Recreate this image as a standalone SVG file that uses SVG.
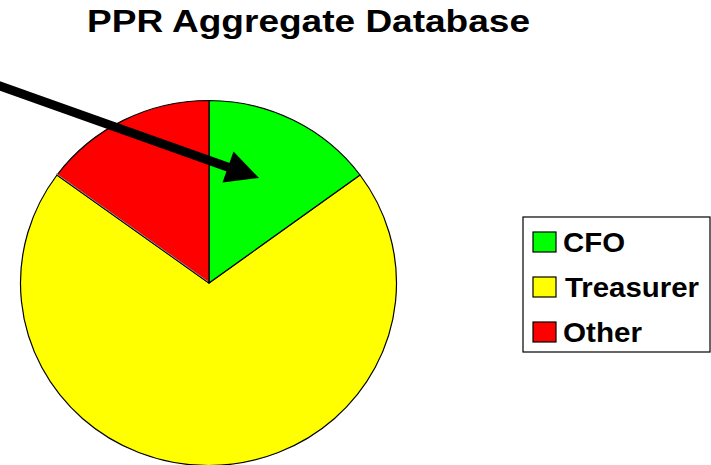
<svg xmlns="http://www.w3.org/2000/svg" width="711" height="465" viewBox="0 0 711 465">
  <style>
    text { font-family: "Liberation Sans", Arial, sans-serif; font-weight: bold; fill: #000; }
    .title { font-size: 32px; }
    .lbl { font-size: 28px; }
    .slice { stroke: #000; stroke-width: 1.2; stroke-linejoin: round; }
    .swatch { stroke: #000; stroke-width: 1.2; }
  </style>
  <rect width="711" height="465" fill="#fff"/>

  <text class="title" x="87" y="32" textLength="443" lengthAdjust="spacingAndGlyphs">PPR Aggregate Database</text>

  <!-- pie slices -->
  <g id="slice-treasurer">
    <path class="slice" fill="#ffff00" d="M209,283 L360,175 A188,182.5 0 1,1 57,175 Z"/>
  </g>
  <g id="slice-cfo">
    <path class="slice" fill="#00ff00" d="M209,283 L209,100.5 A188,182.5 0 0,1 360,175 Z"/>
  </g>
  <g id="slice-other">
    <path class="slice" fill="#ff0000" d="M209,283 L57,175 A188,182.5 0 0,1 209,100.5 Z"/>
    <line x1="208" y1="281.5" x2="56.5" y2="173.8" stroke="#888" stroke-width="1"/>
  </g>

  <!-- legend -->
  <g id="legend">
    <rect x="523" y="217" width="187" height="135" fill="#fff" stroke="#000" stroke-width="1.2"/>
    <g id="legend-cfo">
      <rect class="swatch" x="533" y="232" width="23" height="20" fill="#00ff00"/>
      <text class="lbl" x="563" y="252" textLength="62" lengthAdjust="spacingAndGlyphs">CFO</text>
    </g>
    <g id="legend-treasurer">
      <rect class="swatch" x="533" y="277" width="23" height="20" fill="#ffff00"/>
      <text class="lbl" x="565" y="297" textLength="134" lengthAdjust="spacingAndGlyphs">Treasurer</text>
    </g>
    <g id="legend-other">
      <rect class="swatch" x="533" y="322" width="23" height="20" fill="#ff0000"/>
      <text class="lbl" x="563" y="342" textLength="79" lengthAdjust="spacingAndGlyphs">Other</text>
    </g>
  </g>

  <!-- connectors: pointer arrow with a solid triangular head -->
  <g id="connectors">
    <line x1="-4" y1="84.6" x2="229" y2="167.5" stroke="#000" stroke-width="9"/>
    <polygon points="259,178 233.5,151.5 222.5,182.5" fill="#000"/>
  </g>
</svg>
